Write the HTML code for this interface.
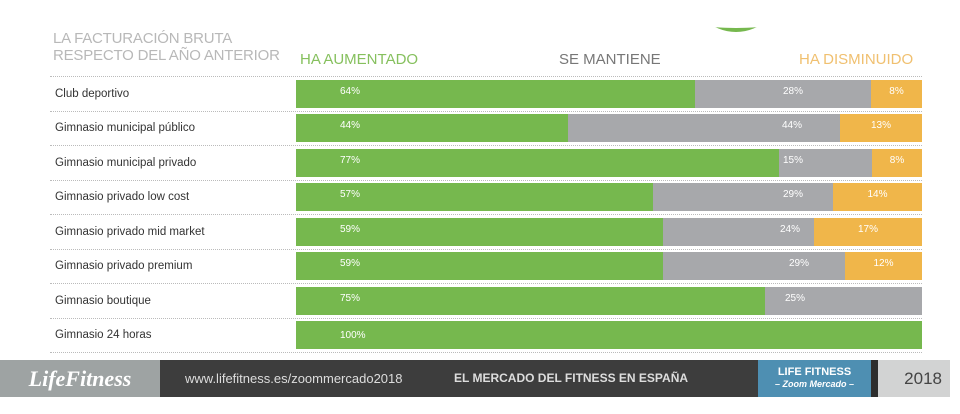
<!DOCTYPE html>
<html><head><meta charset="utf-8"><style>
body{margin:0;width:960px;height:414px;background:#fff;position:relative;overflow:hidden;font-family:"Liberation Sans",sans-serif}
.a{position:absolute}
.t{color:#b8b8b8;font-size:15px;line-height:17px;left:53px;top:30px;letter-spacing:-0.2px}
.h{font-size:15px;top:51px}
.lab{left:55px;font-size:11.5px;color:#333}
.sep{left:50px;width:872px;border-top:1px dotted #bbb}
.bar{left:296px;width:626px;height:28px;display:flex}
.bar div{height:100%;color:#fff;font-size:10px;line-height:24px;position:relative}
.g{background:#76b84e}.s{background:#a7a8ab}.o{background:#f0b64a}
</style></head><body>
<div class="a" style="left:690px;top:-60px;width:92px;height:92px;border-radius:50%;background:#76b84e"></div>
<div class="a" style="left:680px;top:-60px;width:112px;height:88px;background:#fff;border-radius:0 0 50% 50%/0 0 12px 12px"></div>
<div class="a t">LA FACTURACIÓN BRUTA<br>RESPECTO DEL AÑO ANTERIOR</div>
<div class="a h" style="left:300px;color:#86c05e">HA AUMENTADO</div>
<div class="a h" style="left:559px;color:#777">SE MANTIENE</div>
<div class="a h" style="left:799px;color:#f0c070">HA DISMINUIDO</div>
<div class="a sep" style="top:76px"></div>
<div class="a sep" style="top:111px"></div>
<div class="a sep" style="top:145px"></div>
<div class="a sep" style="top:180px"></div>
<div class="a sep" style="top:214px"></div>
<div class="a sep" style="top:249px"></div>
<div class="a sep" style="top:283px"></div>
<div class="a sep" style="top:318px"></div>
<div class="a sep" style="top:352px"></div>

<div class="a lab" style="top:88px">Club deportivo</div>
<div class="a lab" style="top:122px">Gimnasio municipal público</div>
<div class="a lab" style="top:157px">Gimnasio municipal privado</div>
<div class="a lab" style="top:191px">Gimnasio privado low cost</div>
<div class="a lab" style="top:226px">Gimnasio privado mid market</div>
<div class="a lab" style="top:260px">Gimnasio privado premium</div>
<div class="a lab" style="top:295px">Gimnasio boutique</div>
<div class="a lab" style="top:329px">Gimnasio 24 horas</div>

<div class="a bar" style="top:80px"><div class="g" style="width:399px;padding-left:44px;box-sizing:border-box">64%</div><div class="s" style="width:176px;text-align:right;padding-right:68px;box-sizing:border-box">28%</div><div class="o" style="flex:1;text-align:center">8%</div></div>
<div class="a bar" style="top:114px"><div class="g" style="width:272px;padding-left:44px;box-sizing:border-box">44%</div><div class="s" style="width:272px;text-align:right;padding-right:38px;box-sizing:border-box">44%</div><div class="o" style="flex:1;text-align:center">13%</div></div>
<div class="a bar" style="top:149px"><div class="g" style="width:483px;padding-left:44px;box-sizing:border-box">77%</div><div class="s" style="width:93px;padding-left:4px;box-sizing:border-box">15%</div><div class="o" style="flex:1;text-align:center">8%</div></div>
<div class="a bar" style="top:183px"><div class="g" style="width:357px;padding-left:44px;box-sizing:border-box">57%</div><div class="s" style="width:180px;text-align:right;padding-right:30px;box-sizing:border-box">29%</div><div class="o" style="flex:1;text-align:center">14%</div></div>
<div class="a bar" style="top:218px"><div class="g" style="width:367px;padding-left:44px;box-sizing:border-box">59%</div><div class="s" style="width:151px;text-align:right;padding-right:14px;box-sizing:border-box">24%</div><div class="o" style="flex:1;text-align:center">17%</div></div>
<div class="a bar" style="top:252px"><div class="g" style="width:367px;padding-left:44px;box-sizing:border-box">59%</div><div class="s" style="width:182px;text-align:right;padding-right:36px;box-sizing:border-box">29%</div><div class="o" style="flex:1;text-align:center">12%</div></div>
<div class="a bar" style="top:287px"><div class="g" style="width:469px;padding-left:44px;box-sizing:border-box">75%</div><div class="s" style="flex:1;padding-left:20px;box-sizing:border-box">25%</div></div>
<div class="a bar" style="top:321px"><div class="g" style="flex:1;padding-left:44px;box-sizing:border-box;line-height:30px">100%</div></div>

<div class="a" style="left:0;top:360px;width:160px;height:37px;background:#9ea3a3;color:#fff;font:italic bold 22px 'Liberation Serif',serif;line-height:37px;text-align:center">LifeFitness</div>
<div class="a" style="left:160px;top:360px;width:598px;height:37px;background:#3d3d3d;color:#ddd;font-size:13px;line-height:37px"><span style="margin-left:25px">www.lifefitness.es/zoommercado2018</span><span style="position:absolute;left:294px;font-weight:bold;font-size:12px">EL MERCADO DEL FITNESS EN ESPAÑA</span></div>
<div class="a" style="left:758px;top:360px;width:113px;height:37px;background:#4e8fb2;color:#fff;text-align:center;font-size:11px;font-weight:bold;line-height:12px;padding-top:6px;box-sizing:border-box">LIFE FITNESS<br><i style="font-size:9px">– Zoom Mercado –</i></div>
<div class="a" style="left:871px;top:360px;width:7px;height:37px;background:#2d2d2d"></div>
<div class="a" style="left:878px;top:360px;width:72px;height:37px;background:#d2d3d3;color:#444;font-size:17px;line-height:37px;text-align:right;padding-right:8px;box-sizing:border-box">2018</div>
</body></html>
